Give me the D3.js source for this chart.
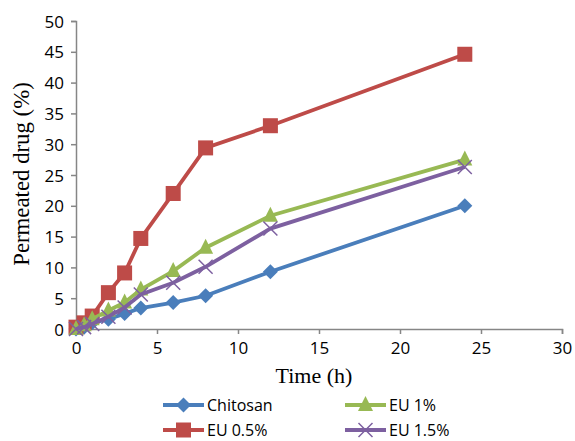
<!DOCTYPE html>
<html><head><meta charset="utf-8">
<script src="https://cdn.jsdelivr.net/npm/d3@7"></script>
<style>body{margin:0;background:#fff}svg{display:block}</style>
</head><body>
<svg id="c" width="575" height="441"></svg>
<script>
const times = [0, 0.5, 1, 2, 3, 4, 6, 8, 12, 24];
const chitosan = [0, 0.3, 1.0, 1.6, 2.5, 3.4, 4.3, 5.4, 9.3, 20.0];
const eu05 = [0.3, 1.0, 2.1, 5.9, 9.1, 14.7, 22.0, 29.4, 33.0, 44.6];
const eu1 = [0, 0.6, 1.6, 3.0, 4.3, 6.4, 9.4, 13.2, 18.4, 27.5];
const eu15 = [0, 0.3, 0.8, 2.0, 3.5, 5.6, 7.5, 10.1, 16.3, 26.3];
const xTicks = [0, 5, 10, 15, 20, 25, 30];
const yTicks = [0, 5, 10, 15, 20, 25, 30, 35, 40, 45, 50];
const seriesNames = ["Chitosan", "EU 0.5%", "EU 1%", "EU 1.5%"];
const seriesValues = [chitosan, eu05, eu1, eu15];
const colors = ["#4A7EBB", "#BE4B48", "#98B954", "#7D60A0"];
const markers = ["diamond", "square", "triangle", "x"];

const svg = d3.select("#c");
const x = d3.scaleLinear().domain([0, 30]).range([76, 562]);
const y = d3.scaleLinear().domain([0, 50]).range([329, 21]);
const axisColor = "#868686";
const sans = "'Open Sans', 'Noto Sans', sans-serif";

const xAxis = svg.append("g").attr("transform", "translate(0,329)")
  .call(d3.axisBottom(x).tickValues(xTicks).tickSize(5).tickPadding(8));
const yAxis = svg.append("g").attr("transform", "translate(76,0)")
  .call(d3.axisLeft(y).tickValues(yTicks).tickSize(5).tickPadding(7));
[xAxis, yAxis].forEach(a => {
  a.select(".domain").attr("stroke", axisColor).attr("stroke-width", 1.5);
  a.selectAll(".tick line").attr("stroke", axisColor).attr("stroke-width", 1.5);
  a.selectAll(".tick text").attr("fill", "#000")
    .style("font-family", sans).style("font-size", "17px");
});
yAxis.selectAll(".tick text").attr("dy", "0.36em");

svg.append("text").attr("x", 314).attr("y", 383).attr("text-anchor", "middle")
  .style("font-family", "'Liberation Serif', serif").style("font-size", "22px").text("Time (h)");
svg.append("text").attr("transform", "translate(29,174) rotate(-90)").attr("text-anchor", "middle")
  .style("font-family", "'Liberation Serif', serif").style("font-size", "22.8px").text("Permeated drug (%)");

function drawMarker(g, type, cx, cy, color) {
  if (type === "diamond") {
    g.append("path").attr("d", `M${cx},${cy-7.5}L${cx+7.5},${cy}L${cx},${cy+7.5}L${cx-7.5},${cy}Z`).attr("fill", color);
  } else if (type === "square") {
    g.append("rect").attr("x", cx-7.5).attr("y", cy-7.5).attr("width", 15).attr("height", 15).attr("fill", color);
  } else if (type === "triangle") {
    g.append("path").attr("d", `M${cx},${cy-9}L${cx+7.5},${cy+6}L${cx-7.5},${cy+6}Z`).attr("fill", color);
  } else {
    g.append("path").attr("d", `M${cx-7},${cy-7}L${cx+7},${cy+7}M${cx+7},${cy-7}L${cx-7},${cy+7}`)
      .attr("stroke", color).attr("stroke-width", 1.5);
  }
}

const line = d3.line().x(d => x(d[0])).y(d => y(d[1]));
seriesValues.forEach((vals, i) => {
  const pts = times.map((t, j) => [t, vals[j]]);
  const g = svg.append("g");
  g.append("path").attr("d", line(pts)).attr("fill", "none").attr("stroke", colors[i]).attr("stroke-width", 3.8);
  pts.forEach(p => drawMarker(g, markers[i], x(p[0]), y(p[1]), colors[i]));
});

// legend
const legPos = [[163, 405], [163, 430], [345, 405], [345, 430]];
seriesNames.forEach((name, i) => {
  const [lx, ly] = legPos[i];
  const g = svg.append("g");
  g.append("line").attr("x1", lx).attr("x2", lx + 41).attr("y1", ly).attr("y2", ly)
    .attr("stroke", colors[i]).attr("stroke-width", 3.8);
  drawMarker(g, markers[i], lx + 20.5, ly, colors[i]);
  g.append("text").attr("x", lx + 44).attr("y", ly).attr("dy", "0.36em")
    .style("font-family", sans).style("font-size", "16px").text(name);
});
</script>
</body></html>
